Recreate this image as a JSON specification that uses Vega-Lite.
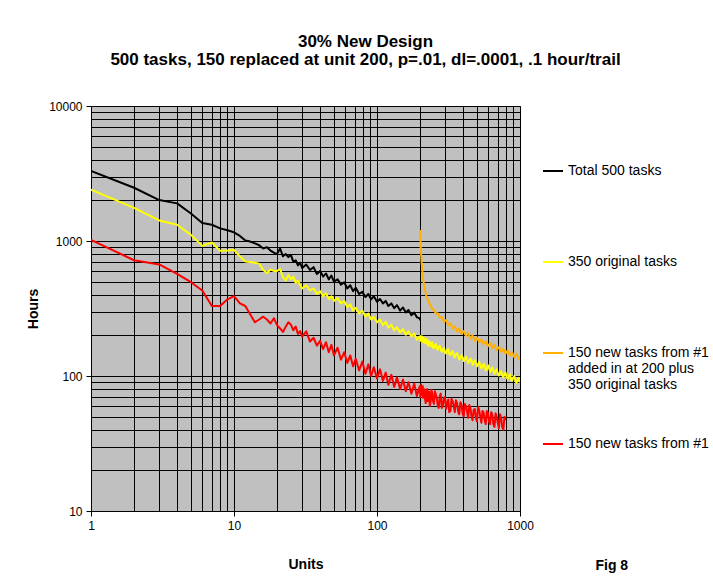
{
"$schema": "https://vega.github.io/schema/vega-lite/v6.json",
"width": 429, "height": 405,
"autosize": {"type": "none"},
"padding": {"left": 91, "top": 106, "right": 193, "bottom": 77},
"background": "white",
"config": {
  "view": {"fill": "#C0C0C0", "stroke": "#808080"},
  "font": "Liberation Sans",
  "axis": {"labelFont": "Liberation Sans", "labelFontSize": 12, "labelColor": "#000", "titleFont": "Liberation Sans", "titleFontSize": 14, "titleFontWeight": "bold", "titleColor": "#000", "domainColor": "#000", "gridColor": "#000", "gridOpacity": 1, "gridWidth": 1, "tickSize": 5, "labelOverlap": false, "labelFlush": false}
},
"title": {"text": ["30% New Design", "500 tasks, 150 replaced at unit 200, p=.01, dl=.0001,  .1 hour/trail"], "font": "Liberation Sans", "fontSize": 17, "fontWeight": "bold", "color": "#000", "anchor": "middle", "dx": 60, "offset": 31, "lineHeight": 18},
"data": {"values": [
{"u":1,"T":3300,"O":2400,"N":1020},
{"u":2,"T":2480,"O":1760,"N":720},
{"u":3,"T":2010,"O":1420,"N":670},
{"u":4,"T":1900,"O":1320,"N":570},
{"u":5,"T":1600,"O":1110,"N":495},
{"u":6,"T":1360,"O":920,"N":430},
{"u":7,"T":1320,"O":975,"N":330},
{"u":8,"T":1240,"O":845,"N":330},
{"u":9,"T":1200,"O":850,"N":370},
{"u":10,"T":1160,"O":860,"N":390},
{"u":11,"T":1090,"O":770,"N":345},
{"u":12,"T":1010,"O":705,"N":330},
{"u":13,"T":990,"O":700,"N":285},
{"u":14,"T":960,"O":690,"N":250},
{"u":15,"T":930,"O":680,"N":262},
{"u":16,"T":880,"O":610,"N":275},
{"u":17,"T":900,"O":580,"N":262},
{"u":18,"T":850,"O":615,"N":245},
{"u":19,"T":820,"O":600,"N":268},
{"u":20,"T":800,"O":600,"N":238},
{"u":21,"T":880,"O":620,"N":225},
{"u":22,"T":770,"O":540,"N":212},
{"u":23,"T":800,"O":510,"N":232},
{"u":24,"T":760,"O":560,"N":250},
{"u":25,"T":790,"O":520,"N":240},
{"u":26,"T":700,"O":545,"N":218},
{"u":27,"T":720,"O":490,"N":232},
{"u":28,"T":660,"O":510,"N":205},
{"u":29,"T":690,"O":470,"N":215},
{"u":30,"T":630,"O":445,"N":196},
{"u":32,"T":670,"O":470,"N":214},
{"u":34,"T":610,"O":430,"N":180},
{"u":36,"T":640,"O":445,"N":192},
{"u":38,"T":570,"O":405,"N":168},
{"u":40,"T":600,"O":425,"N":182},
{"u":42,"T":545,"O":390,"N":158},
{"u":44,"T":575,"O":410,"N":178},
{"u":46,"T":520,"O":372,"N":150},
{"u":48,"T":555,"O":390,"N":170},
{"u":50,"T":500,"O":360,"N":142},
{"u":53,"T":520,"O":378,"N":162},
{"u":56,"T":475,"O":345,"N":132},
{"u":59,"T":495,"O":360,"N":150},
{"u":62,"T":445,"O":322,"N":125},
{"u":65,"T":470,"O":340,"N":142},
{"u":68,"T":425,"O":305,"N":118},
{"u":71,"T":450,"O":320,"N":134},
{"u":75,"T":405,"O":290,"N":110},
{"u":79,"T":420,"O":305,"N":128},
{"u":83,"T":385,"O":275,"N":104},
{"u":87,"T":405,"O":290,"N":122},
{"u":91,"T":370,"O":262,"N":100},
{"u":95,"T":390,"O":275,"N":116},
{"u":100,"T":355,"O":250,"N":96},
{"u":105,"T":372,"O":262,"N":112},
{"u":110,"T":345,"O":238,"N":92},
{"u":115,"T":360,"O":252,"N":106},
{"u":120,"T":330,"O":228,"N":86},
{"u":126,"T":345,"O":240,"N":102},
{"u":132,"T":318,"O":218,"N":83},
{"u":138,"T":335,"O":230,"N":98},
{"u":145,"T":305,"O":210,"N":80},
{"u":152,"T":322,"O":222,"N":94},
{"u":159,"T":295,"O":202,"N":77},
{"u":166,"T":308,"O":214,"N":90},
{"u":174,"T":282,"O":196,"N":74},
{"u":182,"T":295,"O":206,"N":88},
{"u":190,"T":272,"O":185,"N":71},
{"u":199,"T":268,"O":196,"N":84},
{"u":200,"T":258,"O":190,"M":1205,"N":79},
{"u":201,"O":186,"M":1050,"N":70},
{"u":202,"O":198,"M":930,"N":84},
{"u":203,"O":182,"M":840,"N":72},
{"u":204,"O":194,"M":765,"N":86},
{"u":205,"O":185,"M":700,"N":74},
{"u":207,"O":196,"M":615,"N":82},
{"u":209,"O":192,"N":84},
{"u":210,"O":178,"M":530,"N":69},
{"u":213,"O":191,"M":475,"N":80},
{"u":215,"O":181,"N":72},
{"u":217,"O":175,"M":428,"N":67},
{"u":219,"O":176,"N":63},
{"u":221,"O":188,"M":392,"N":78},
{"u":224,"O":184,"N":80},
{"u":226,"O":170,"M":372,"N":65},
{"u":228,"O":168,"N":74},
{"u":231,"O":182,"M":348,"N":77},
{"u":234,"O":177,"N":60},
{"u":237,"O":166,"M":335,"N":64},
{"u":240,"O":172,"N":79},
{"u":243,"O":178,"M":312,"N":75},
{"u":246,"O":163,"N":66},
{"u":250,"O":161,"M":310,"N":62},
{"u":254,"O":170,"N":77},
{"u":258,"O":173,"M":289,"N":73},
{"u":262,"O":160,"N":68},
{"u":266,"O":156,"M":292,"N":60},
{"u":270,"O":165,"N":58},
{"u":275,"O":167,"M":270,"N":71},
{"u":279,"O":157,"N":74},
{"u":284,"O":151,"M":274,"N":58},
{"u":289,"O":156,"N":61},
{"u":294,"O":162,"M":252,"N":69},
{"u":299,"O":150,"N":70},
{"u":304,"O":147,"M":260,"N":57},
{"u":309,"O":155,"N":62},
{"u":315,"O":158,"M":237,"N":67},
{"u":320,"O":146,"N":54},
{"u":326,"O":143,"M":246,"N":55},
{"u":332,"O":150,"N":68},
{"u":338,"O":153,"M":224,"N":65},
{"u":344,"O":141,"N":60},
{"u":350,"O":137,"M":234,"N":54},
{"u":356,"O":146,"N":66},
{"u":363,"O":148,"M":213,"N":63},
{"u":369,"O":139,"N":55},
{"u":376,"O":133,"M":224,"N":52},
{"u":383,"O":136,"N":64},
{"u":390,"O":143,"M":205,"N":61},
{"u":397,"O":138,"N":53},
{"u":404,"O":129,"M":215,"N":50},
{"u":411,"O":132,"N":62},
{"u":419,"O":139,"M":198,"N":60},
{"u":426,"O":134,"N":55},
{"u":434,"O":125,"M":208,"N":49},
{"u":442,"O":127,"N":61},
{"u":450,"O":135,"M":190,"N":58},
{"u":458,"O":131,"N":50},
{"u":466,"O":121,"M":200,"N":47},
{"u":474,"O":125,"N":56},
{"u":483,"O":131,"M":182,"N":57},
{"u":491,"O":124,"N":49},
{"u":500,"O":118,"M":193,"N":46},
{"u":509,"O":122,"N":59},
{"u":518,"O":127,"M":178,"N":56},
{"u":527,"O":121,"N":50},
{"u":537,"O":114,"M":187,"N":45},
{"u":546,"O":116,"N":55},
{"u":556,"O":123,"M":172,"N":54},
{"u":566,"O":119,"N":47},
{"u":576,"O":110,"M":181,"N":44},
{"u":586,"O":112,"N":55},
{"u":597,"O":120,"M":166,"N":53},
{"u":607,"O":115,"N":46},
{"u":618,"O":107,"M":176,"N":44},
{"u":629,"O":111,"N":54},
{"u":640,"O":116,"M":161,"N":52},
{"u":651,"O":110,"N":44},
{"u":663,"O":104,"M":170,"N":42},
{"u":675,"O":109,"N":53},
{"u":687,"O":112,"M":155,"N":50},
{"u":699,"O":104,"N":45},
{"u":712,"O":101,"M":164,"N":41},
{"u":725,"O":107,"N":52},
{"u":738,"O":109,"M":151,"N":49},
{"u":751,"O":101,"N":42},
{"u":765,"O":98,"M":159,"N":40},
{"u":778,"O":104,"N":50},
{"u":792,"O":106,"M":146,"N":47},
{"u":806,"O":98},
{"u":820,"O":95,"M":155},
{"u":835,"O":100},
{"u":850,"O":103,"M":142},
{"u":865,"O":95},
{"u":880,"O":92,"M":150},
{"u":896,"O":97},
{"u":912,"O":100,"M":138},
{"u":928,"O":93},
{"u":945,"O":89,"M":146},
{"u":962,"O":94},
{"u":979,"O":97,"M":134},
{"u":990,"O":91},
{"u":1000,"O":90,"M":139}
]},
"layer": [
  {
    "transform": [{"fold": ["T","O","M","N"], "as": ["s","h"]}, {"filter": "isValid(datum.h)"}],
    "mark": {"type": "line", "strokeWidth": 2, "strokeJoin": "round", "clip": true},
    "encoding": {
      "x": {"field": "u", "type": "quantitative", "title": "Units",
        "scale": {"type": "log", "domain": [1, 1000], "nice": false},
        "axis": {"values": [1,2,3,4,5,6,7,8,9,10,20,30,40,50,60,70,80,90,100,200,300,400,500,600,700,800,900,1000],
          "labelExpr": "(datum.value==1||datum.value==10||datum.value==100||datum.value==1000)?format(datum.value,'d'):''",
          "tickColor": {"condition": {"test": "datum.value==1||datum.value==10||datum.value==100||datum.value==1000", "value": "#000"}, "value": "transparent"},
          "labelPadding": 4, "titlePadding": 26}},
      "y": {"field": "h", "type": "quantitative", "title": "Hours",
        "scale": {"type": "log", "domain": [10, 10000], "nice": false},
        "axis": {"values": [10,20,30,40,50,60,70,80,90,100,200,300,400,500,600,700,800,900,1000,2000,3000,4000,5000,6000,7000,8000,9000,10000],
          "labelExpr": "(datum.value==10||datum.value==100||datum.value==1000||datum.value==10000)?format(datum.value,'d'):''",
          "tickColor": {"condition": {"test": "datum.value==10||datum.value==100||datum.value==1000||datum.value==10000", "value": "#000"}, "value": "transparent"},
          "labelPadding": 4, "titlePadding": 8}},
      "color": {"field": "s", "type": "nominal",
        "scale": {"domain": ["T","O","M","N"], "range": ["#000000","#FFFF00","#FFB000","#FF0000"]},
        "legend": {"orient": "none", "legendX": 451, "legendY": 54, "title": null, "padding": 0,
          "symbolType": "stroke", "symbolSize": 400, "symbolStrokeWidth": 2, "labelOffset": 4,
          "labelFont": "Liberation Sans", "labelFontSize": 14, "labelColor": "#000", "labelLimit": 300,
          "rowPadding": 9,
          "labelExpr": "datum.value=='T'?['Total 500 tasks','','','','']:datum.value=='O'?['350 original tasks','','','','']:datum.value=='M'?['150 new tasks from #1','added in at 200 plus','350 original tasks','','']:['150 new tasks from #1','','','','']"}}
    }
  },
  {
    "data": {"values": [{}]},
    "mark": {"type": "text", "font": "Liberation Sans", "fontSize": 14, "fontWeight": "bold", "align": "center", "baseline": "middle", "color": "#000"},
    "encoding": {
      "x": {"datum": 4385, "type": "quantitative", "title": "Units"},
      "y": {"datum": 3.914, "type": "quantitative", "title": "Hours"},
      "text": {"value": "Fig 8"}
    }
  }
]
}
